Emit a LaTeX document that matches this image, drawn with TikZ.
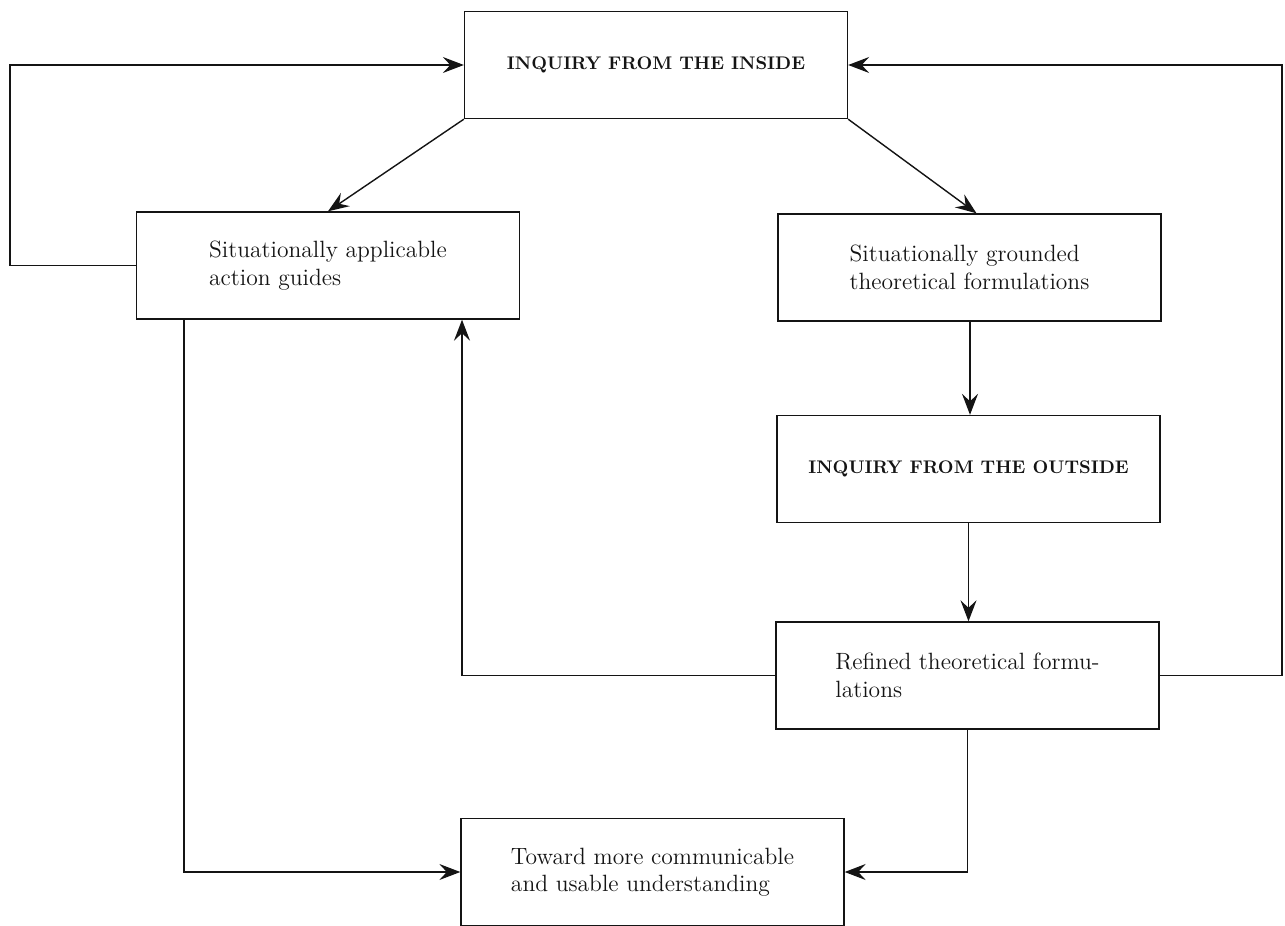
\documentclass[tikz,border=0pt]{standalone}
\usetikzlibrary{arrows.meta,calc}
\definecolor{FigInk}{HTML}{141414}
\tikzset{
  every node/.style={text=FigInk},
  stage/.style={draw=FigInk, line width=0.8pt, minimum width=7.66cm, minimum height=2.14cm, align=left, font=\fontsize{13.4}{15.6}\selectfont},
  heading/.style={stage, font=\fontsize{10.4}{12}\selectfont\bfseries},
  flow/.style={-{Stealth[length=4.2mm,width=3.2mm,inset=1.5mm]}, draw=FigInk, line width=0.8pt},
}

\begin{document}
\begin{tikzpicture}[x=0.02cm,y=-0.02cm]
  \useasboundingbox (0,0) rectangle (1285,926);
  % Boxes
  \node[heading] (inside) at (656,65) {INQUIRY FROM THE INSIDE};
  \node[stage] (guides) at (328,265.5) {Situationally applicable\\action guides};
  \node[stage] (grounded) at (969.5,267.5) {Situationally grounded\\theoretical formulations};
  \node[heading] (outside) at (968.5,469) {INQUIRY FROM THE OUTSIDE};
  \node[stage] (refined) at (967.5,675.5) {Refined theoretical formu-\\lations};
  \node[stage] (toward) at (652.5,872) {Toward more communicable\\and usable understanding};
  % Bends
  \coordinate (lbend) at (10,65);
  \coordinate (rbend) at (1282,65);
  \coordinate (riser) at (462,0);
  \coordinate (ldrop) at (184,0);
  \coordinate (rdrop) at (970,0);
  % Connectors
  \draw[flow] (inside.south west) -- (guides.north);
  \draw[flow] (inside.south east) -- ($(grounded.north)+(7,0)$);
  \draw[flow] (rdrop |- grounded.south) -- (rdrop |- outside.north);
  \draw[flow] (outside.south) -- (outside.south |- refined.north);
  \draw[flow] (guides.west) -| (lbend) |- (inside.west);
  \draw[flow] (refined.east) -| (rbend) |- (inside.east);
  \draw[flow] (refined.west) -| (riser |- guides.south);
  \draw[flow] (ldrop |- guides.south) |- (toward.west);
  \draw[flow] (refined.south) |- (toward.east);
\end{tikzpicture}
\end{document}
